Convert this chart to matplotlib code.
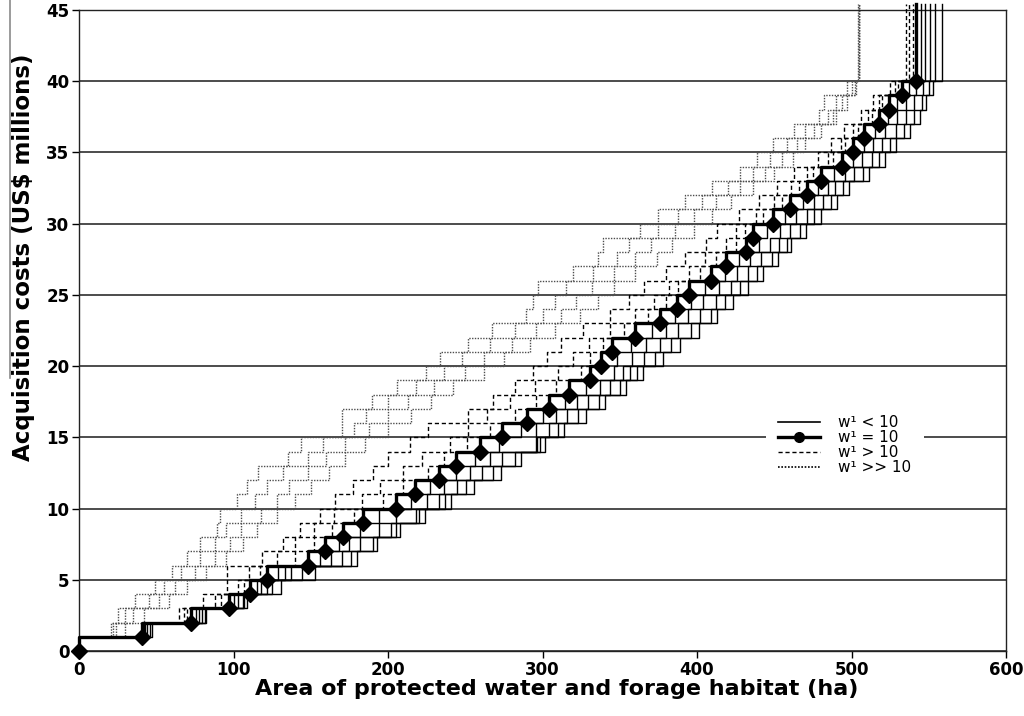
import matplotlib
matplotlib.use("Agg")
import matplotlib.pyplot as plt
from matplotlib.lines import Line2D

plt.rcParams['font.family'] = ['DejaVu Sans']
plt.rcParams['mathtext.default'] = 'regular'

# cumulative acquisition cost levels (US$ millions)
cost_levels = [0, 1, 2, 3, 4, 5, 6, 7, 8, 9, 10, 11, 12, 13, 14, 15, 16, 17, 18, 19, 20,
               21, 22, 23, 24, 25, 26, 27, 28, 29, 30, 31, 32, 33, 34, 35, 36, 37, 38, 39, 40]

# w1 = 10 (reference solution, diamonds)
area_w_eq = [0, 41, 72.5, 97, 111, 121.5, 148, 159, 171, 184, 205, 217.5, 233, 244, 259.5, 274,
             290, 304.5, 317, 331, 338, 345, 360, 376, 387, 395, 409, 418.5, 432, 436.5, 449,
             460.5, 471.5, 480.5, 494, 501, 508, 517.5, 524.5, 533, 541.7]

# w1 < 10 (solid)
area_w_lt_1 = [0, 42, 75.5, 100, 115, 128.5, 156, 168, 182, 194, 215, 227.5, 244, 256, 272, 286,
               300, 314.5, 328, 346, 348, 357, 371, 386, 396, 405, 418, 427.5, 440, 445.5, 457,
               468.5, 478.5, 488.5, 501, 508, 515, 523.5, 529.5, 537, 544.7]
area_w_lt_2 = [0, 43, 77.5, 103, 118, 133.5, 163, 175, 194, 205, 225, 236.5, 253, 266, 295.5, 296,
               309, 322.5, 337, 352, 358, 367, 380, 394, 404, 414, 426, 434.5, 447, 453.5, 464,
               475.5, 484.5, 495.5, 507, 514, 522, 529.5, 535.5, 542, 547.7]
area_w_lt_3 = [0, 44, 79.5, 106, 121.5, 137.5, 170, 182, 202, 218, 233, 244.5, 261, 274, 296.5, 304,
               316, 329.5, 344, 356.6, 366, 376, 388, 402, 412, 422, 433, 441.5, 453, 460.5, 471,
               481.5, 489.5, 501.5, 513, 520, 529, 535.5, 540.5, 546, 550.7]
area_w_lt_4 = [0, 46, 81.5, 107, 125, 144.5, 176, 190, 205, 220, 237, 250.5, 268, 282, 298.5, 310,
               323, 336.5, 350, 361, 373, 383, 396, 409, 418, 428, 439, 448.5, 458, 466.5, 476,
               486.5, 494.5, 507.5, 518, 525, 534, 540.5, 545.5, 550, 554]
area_w_lt_5 = [0, 47, 82.5, 109, 131, 152.5, 180, 193, 208, 224, 241, 255.5, 273, 286, 301.5, 314,
               328, 340.5, 354, 365, 378, 389, 401, 413, 423, 433, 443, 452.5, 461, 470.5, 480,
               490.5, 498.5, 511.5, 522, 529, 538, 544.5, 548.5, 553, 558.4]

# w1 > 10 (dashed)
area_w_gt_1 = [0, 41, 64.5, 80.3, 95.5, 95.5, 118.5, 132, 143, 156, 165.7, 177.6, 190, 200, 214, 226,
               252, 268, 282, 294, 303, 312, 326, 344, 356, 366, 380, 392, 406, 413, 427,
               440, 452, 463, 478, 487, 495, 506, 514, 525, 535.3]
area_w_gt_2 = [0, 41, 68, 88, 103, 110, 128, 140, 152, 165, 183, 195, 210, 222, 240, 252,
               264, 279, 295, 310, 320, 330, 344, 360, 372, 382, 395, 405, 419, 425, 438,
               450, 461, 471, 485, 493, 501, 511, 518, 528, 537.4]
area_w_gt_3 = [0, 41, 70, 92, 107, 117, 140, 152, 164, 178, 197, 210, 226, 236, 251, 266,
               282, 296, 309, 325, 331, 339, 353, 368, 380, 388, 402, 412, 425, 431, 443,
               455, 466, 475, 488, 496, 504, 513, 520, 530, 539.5]

# w1 >> 10 (dotted)
area_w_gg_1 = [0, 21, 25.4, 36, 49, 60, 69.7, 78.3, 89, 91, 102, 109, 116, 135.5, 143.7, 170,
               170, 189.5, 206, 224.6, 233.6, 252, 267, 289, 294, 297, 320, 336, 339, 363, 375,
               392, 410, 428, 438.6, 449.5, 463, 479, 482, 497, 504]
area_w_gg_2 = [0, 22, 30, 45, 55, 66, 78, 88, 95, 105, 114, 122, 132, 148, 158, 178,
               186, 200, 218, 236, 248, 266, 282, 300, 308, 315, 333, 348, 356, 375, 388,
               403, 420, 436, 447, 458, 470, 485, 490, 500, 505]
area_w_gg_3 = [0, 24, 35, 52, 62, 75, 88, 98, 105, 118, 128, 136, 148, 160, 172, 188,
               200, 213, 230, 250, 262, 280, 296, 312, 322, 332, 346, 360, 370, 386, 398,
               412, 428, 444, 455, 465, 476, 488, 494, 502, 505]
area_w_gg_4 = [0, 30, 42, 58, 70, 82, 95, 106, 115, 128, 140, 150, 162, 172, 185, 200,
               215, 228, 242, 262, 275, 292, 308, 324, 336, 346, 360, 374, 384, 398, 410,
               422, 436, 450, 462, 470, 480, 490, 497, 503, 505]

x_ticks = [0, 100, 200, 300, 400, 500, 600]
y_ticks = [0, 5, 10, 15, 20, 25, 30, 35, 40, 45]
legend_labels = ['w\u00b9 < 10', 'w\u00b9 = 10', 'w\u00b9 > 10', 'w\u00b9 >> 10']

fig = plt.figure(figsize=(10.24, 7.16), dpi=100)
ax = fig.add_axes([79 / 1024, 1 - 651 / 716, 927 / 1024, 641 / 716])
ax.set_xlim(0, 600)
ax.set_ylim(0, 45)
y_top = 45.4


def draw(xs, **kw):
    ax.step(list(xs) + [xs[-1]], cost_levels + [y_top], where='pre', clip_on=False, **kw)


for xs in [area_w_gg_1, area_w_gg_2, area_w_gg_3, area_w_gg_4]:
    draw(xs, color='#4d4d4d', lw=1.0, linestyle=(0, (1, 1)), zorder=2)
for xs in [area_w_gt_1, area_w_gt_2, area_w_gt_3]:
    draw(xs, color='black', lw=1.0, linestyle=(0, (3, 2)), zorder=3)
for xs in [area_w_lt_1, area_w_lt_2, area_w_lt_3, area_w_lt_4, area_w_lt_5]:
    draw(xs, color='black', lw=1.0, zorder=4)
draw(area_w_eq, color='black', lw=2.4, zorder=5)
ax.plot(area_w_eq, cost_levels, linestyle='none', marker='D', ms=8.5, color='black',
        clip_on=False, zorder=6)

ax.set_xticks(x_ticks)
ax.set_yticks(y_ticks)
ax.grid(axis='y', color='#2e2e2e', lw=1.2)
ax.set_axisbelow(True)
for s in ax.spines.values():
    s.set_color('#222222')
    s.set_linewidth(1.0)
ax.tick_params(axis='both', direction='out', length=5, width=1, labelsize=12, pad=2)
for lab in ax.get_xticklabels() + ax.get_yticklabels():
    lab.set_fontweight('bold')

ax.set_xlabel('Area of protected water and forage habitat (ha)', fontsize=16, fontweight='bold')
ax.set_ylabel('Acquisition costs (US$ millions)', fontsize=16.5, fontweight='bold')
ax.xaxis.set_label_coords(0.515, -0.043)
ax.yaxis.set_label_coords(-0.048, 0.615)

handles = [
    Line2D([], [], color='black', lw=1.2),
    Line2D([], [], color='black', lw=2.4, marker='o', ms=7),
    Line2D([], [], color='black', lw=1.0, linestyle=(0, (3, 2))),
    Line2D([], [], color='black', lw=1.2, linestyle=(0, (1, 1))),
]
leg = ax.legend(handles, legend_labels, loc='upper left', bbox_to_anchor=(0.741, 0.387),
                fontsize=11, frameon=True, handlelength=2.75, handletextpad=1.2,
                labelspacing=0.0, borderpad=0.8, borderaxespad=0.0, fancybox=False)
leg.get_frame().set_facecolor('white')
leg.get_frame().set_edgecolor('none')
leg.get_frame().set_alpha(1.0)
leg.set_zorder(10)

fig.add_artist(Line2D([10 / 1024, 10 / 1024], [1.0, 1 - 378 / 716], color='#8a8a8a', lw=1.2))

fig.savefig('out.png', dpi=100)
